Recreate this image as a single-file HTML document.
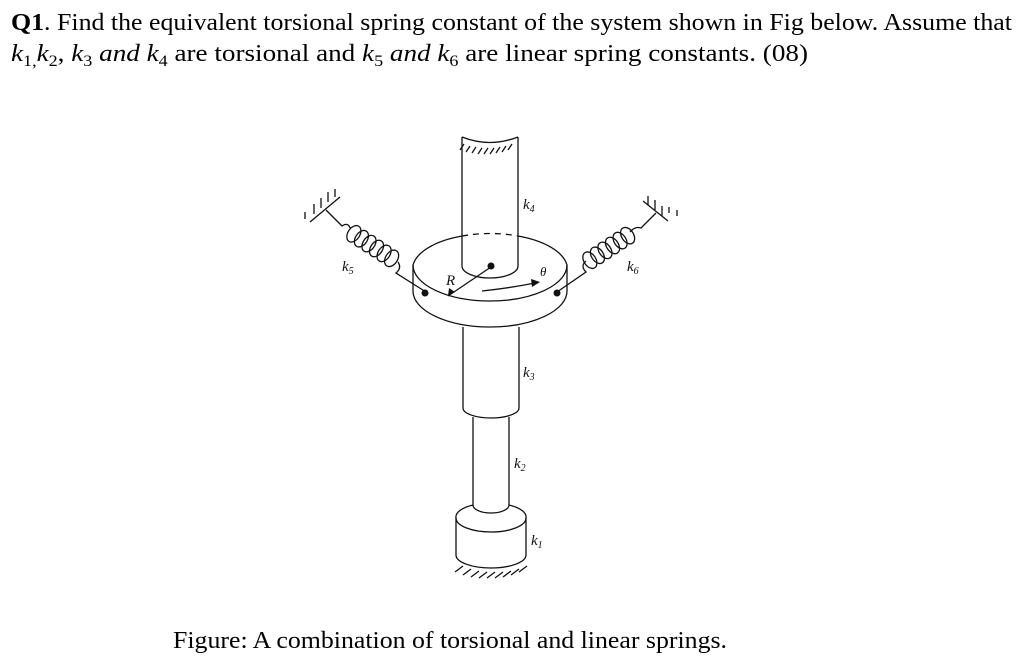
<!DOCTYPE html>
<html><head><meta charset="utf-8"><style>
html,body{margin:0;padding:0;background:#fff;}
svg{display:block;}
</style></head><body>
<svg width="1024" height="665" viewBox="0 0 1024 665" xmlns="http://www.w3.org/2000/svg" font-family="Liberation Serif, serif">
<rect width="1024" height="665" fill="#fff"/>
<text x="11" y="30" font-size="24" textLength="1001" lengthAdjust="spacingAndGlyphs"><tspan font-weight="bold">Q1</tspan>. Find the equivalent torsional spring constant of the system shown in Fig below. Assume that</text>
<text x="11" y="61" font-size="24" textLength="797" lengthAdjust="spacingAndGlyphs"><tspan font-style="italic">k</tspan><tspan font-size="16" dy="5">1,</tspan><tspan font-style="italic" dy="-5">k</tspan><tspan font-size="16" dy="5">2</tspan><tspan dy="-5">, </tspan><tspan font-style="italic">k</tspan><tspan font-size="16" dy="5">3</tspan><tspan font-style="italic" dy="-5"> and k</tspan><tspan font-size="16" dy="5">4</tspan><tspan dy="-5"> are torsional and </tspan><tspan font-style="italic">k</tspan><tspan font-size="16" dy="5">5</tspan><tspan font-style="italic" dy="-5"> and k</tspan><tspan font-size="16" dy="5">6</tspan><tspan dy="-5"> are linear spring constants. (08)</tspan></text>

<g fill="none" stroke="#111" stroke-width="1.3">
<!-- top shaft -->
<path d="M462 137 Q490 148 518 137"/>
<path d="M464 144 l-4 6 M470 146 l-4 6 M476 147 l-4 6 M482 148 l-4 6 M488 148 l-4 6 M494 148 l-4 6 M500 147 l-4 6 M506 146 l-4 6 M512 144 l-4 6"/>
<path d="M462 137 V266 A28 12 0 0 0 518 266 V137"/>
<!-- disk -->
<path d="M462 236 A77 36 0 0 0 413 265 A77 36 0 0 0 567 265 A77 36 0 0 0 518 236"/>
<path d="M462 236 Q490 231 518 236" stroke-dasharray="6 5"/>
<path d="M413 265 V291 A77 36 0 0 0 567 291 V265"/>
<!-- k3 shaft -->
<path d="M463 327 V408 A28 10 0 0 0 519 408 V327"/>
<!-- k2 -->
<path d="M473 417 V505 A18 8 0 0 0 509 505 V417"/>
<!-- base -->
<path d="M473 505 A35 14 0 0 0 456 518 A35 14 0 0 0 526 518 A35 14 0 0 0 509 505"/>
<path d="M456 518 V555 A35 13 0 0 0 526 555 V518"/>
<path d="M455 572 l8 -6 M463 575 l8 -6 M471 577 l8 -6 M479 578 l8 -6 M487 578 l8 -6 M495 578 l8 -6 M503 577 l8 -6 M511 575 l8 -6 M519 572 l8 -6"/>
<!-- radius arrow -->
<path d="M491 267 L448 296"/>
<!-- theta arrow -->
<path d="M482 291 Q510 288 535 283"/>
<!-- left spring ground -->
<path d="M310 222 L340 197"/>
<path d="M305 212 v7 M314 214 v-10 M321 208 v-10 M328 202 v-10 M335 197 v-8"/>
<path d="M326 210 L342 226 Q348 222 350 228"/>
<g transform="translate(348 230) rotate(33)">
<ellipse cx="7" cy="0" rx="6" ry="9"/><ellipse cx="16" cy="0" rx="6" ry="9"/><ellipse cx="25" cy="0" rx="6" ry="9"/><ellipse cx="34" cy="0" rx="6" ry="9"/><ellipse cx="43" cy="0" rx="6" ry="9"/><ellipse cx="52" cy="0" rx="6" ry="9"/>
</g>
<path d="M398 262 Q402 268 396 273 L426 292"/>
<!-- right spring -->
<path d="M557 292 L586 272 Q580 266 586 261"/>
<g transform="translate(584 264) rotate(-33)">
<ellipse cx="7" cy="0" rx="6" ry="9"/><ellipse cx="16" cy="0" rx="6" ry="9"/><ellipse cx="25" cy="0" rx="6" ry="9"/><ellipse cx="34" cy="0" rx="6" ry="9"/><ellipse cx="43" cy="0" rx="6" ry="9"/><ellipse cx="52" cy="0" rx="6" ry="9"/>
</g>
<path d="M630 232 Q635 226 641 228 L656 213"/>
<path d="M643 201 L668 221"/>
<path d="M648 205 v-9 M655 210 v-10 M662 216 v-10 M669 213 v-6 M677 210 v6"/>
</g>
<polygon points="448,296 449,288 455,292" fill="#111"/>
<polygon points="540,282 531,279 532,287" fill="#111"/>
<circle cx="491" cy="266" r="3.5" fill="#111"/>
<circle cx="425" cy="293" r="3.5" fill="#111"/>
<circle cx="557" cy="293" r="3.5" fill="#111"/>

<g font-style="italic" font-size="15" fill="#111">
<text x="523" y="209">k<tspan font-size="10" dy="3">4</tspan></text>
<text x="342" y="271">k<tspan font-size="10" dy="3">5</tspan></text>
<text x="627" y="271">k<tspan font-size="10" dy="3">6</tspan></text>
<text x="446" y="285">R</text>
<text x="540" y="276" font-size="13">θ</text>
<text x="523" y="377">k<tspan font-size="10" dy="3">3</tspan></text>
<text x="514" y="468">k<tspan font-size="10" dy="3">2</tspan></text>
<text x="531" y="545">k<tspan font-size="10" dy="3">1</tspan></text>
</g>
<text x="173" y="648" font-size="24" textLength="554" lengthAdjust="spacingAndGlyphs">Figure: A combination of torsional and linear springs.</text>
</svg>
</body></html>
